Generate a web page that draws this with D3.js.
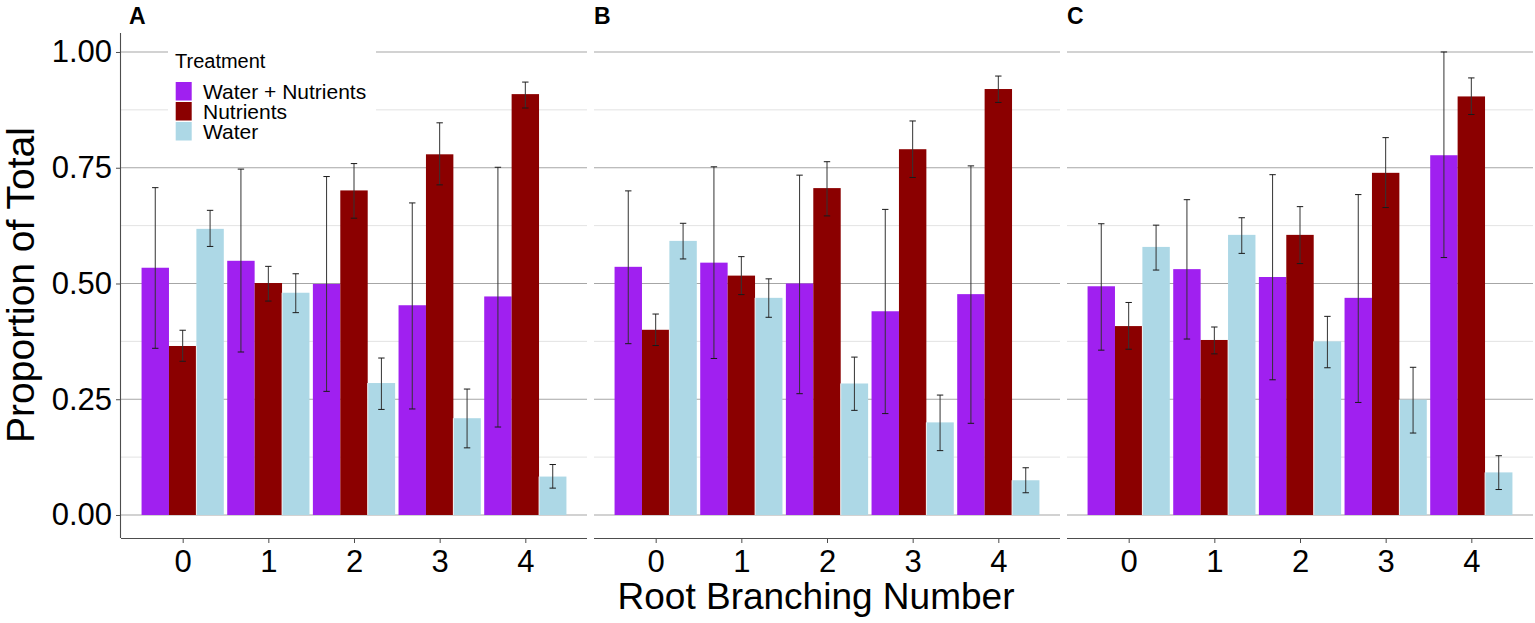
<!DOCTYPE html>
<html>
<head>
<meta charset="utf-8">
<script src="https://cdn.jsdelivr.net/npm/d3@7"></script>
<style>
	body { margin: 0; background: #fff; }
	svg { display: block; font-family: "Liberation Sans", Arial, sans-serif; }
</style>
</head>
<body>
<svg id="chart" width="1535" height="623"></svg>
<script>
'use strict';

const branching = ["0", "1", "2", "3", "4"];
const treatments = ["Water + Nutrients", "Nutrients", "Water"];
const treatmentColors = ["#a020f0", "#8b0000", "#add8e6"];
const panelLetters = ["A", "B", "C"];
const yTicks = [0, 0.25, 0.5, 0.75, 1];
const yMinorTicks = [0.125, 0.375, 0.625, 0.875];

// one row per panel (A, B, C), one value per branching number
const waterNutrients = [
	[0.534, 0.549, 0.499, 0.453, 0.472],
	[0.536, 0.545, 0.500, 0.440, 0.477],
	[0.494, 0.531, 0.514, 0.469, 0.777]
];
const waterNutrientsLo = [
	[0.360, 0.352, 0.267, 0.229, 0.190],
	[0.370, 0.338, 0.262, 0.219, 0.198],
	[0.356, 0.380, 0.292, 0.243, 0.556]
];
const waterNutrientsHi = [
	[0.707, 0.747, 0.731, 0.674, 0.751],
	[0.700, 0.752, 0.734, 0.660, 0.754],
	[0.629, 0.681, 0.735, 0.692, 1.000]
];

const nutrients = [
	[0.365, 0.501, 0.701, 0.779, 0.909],
	[0.400, 0.517, 0.706, 0.790, 0.920],
	[0.408, 0.378, 0.605, 0.739, 0.904]
];
const nutrientsLo = [
	[0.332, 0.462, 0.641, 0.713, 0.879],
	[0.366, 0.476, 0.646, 0.729, 0.891],
	[0.358, 0.348, 0.543, 0.664, 0.865]
];
const nutrientsHi = [
	[0.399, 0.537, 0.759, 0.847, 0.935],
	[0.434, 0.558, 0.763, 0.851, 0.948],
	[0.459, 0.406, 0.666, 0.815, 0.944]
];

const water = [
	[0.618, 0.480, 0.285, 0.209, 0.083],
	[0.592, 0.469, 0.284, 0.200, 0.075],
	[0.579, 0.605, 0.375, 0.249, 0.092]
];
const waterLo = [
	[0.580, 0.437, 0.228, 0.145, 0.058],
	[0.553, 0.427, 0.226, 0.139, 0.048],
	[0.529, 0.565, 0.318, 0.177, 0.055]
];
const waterHi = [
	[0.658, 0.521, 0.339, 0.272, 0.109],
	[0.630, 0.510, 0.341, 0.259, 0.102],
	[0.626, 0.642, 0.429, 0.319, 0.128]
];

const means = [waterNutrients, nutrients, water];
const lows = [waterNutrientsLo, nutrientsLo, waterLo];
const highs = [waterNutrientsHi, nutrientsHi, waterHi];

let svg = d3.select("#chart");

const panelLeft = [121, 594, 1067],
	panelWidth = 466,
	plotTop = 33,
	plotBottom = 538,
	dodge = 0.32;

let y = d3.scaleLinear()
	.domain([-0.0497, 1.041])
	.range([plotBottom, plotTop]);

function drawPanel(p) {
	let left = panelLeft[p];
	let x = d3.scaleLinear()
		.domain([-0.72, 4.72])
		.range([left, left + panelWidth]);

	let g = svg.append("g");

	// gridlines
	g.selectAll(".minor")
	.data(yMinorTicks)
	.enter().append("line")
	.attr("x1", left).attr("x2", left + panelWidth)
	.attr("y1", d => y(d)).attr("y2", d => y(d))
	.attr("stroke", "#e3e3e3")
	.attr("stroke-width", 1);

	g.selectAll(".major")
	.data(yTicks)
	.enter().append("line")
	.attr("x1", left).attr("x2", left + panelWidth)
	.attr("y1", d => y(d)).attr("y2", d => y(d))
	.attr("stroke", "#a6a6a6")
	.attr("stroke-width", 1.1);

	// legend sits in panel A, on a white box
	if (p === 0) {
		drawLegend();
	}

	let data = [];
	for (let t = 0; t < treatments.length; t++) {
		branching.forEach(function (b, i) {
			data.push({
				t: t,
				i: i,
				pos: i + (t - 1) * dodge,
				value: means[t][p][i],
				lo: lows[t][p][i],
				hi: highs[t][p][i]
			});
		});
	}

	g.selectAll(".bar")
	.data(data)
	.enter().append("rect")
	.attr("class", "bar")
	.attr("x", d => x(d.pos - dodge / 2))
	.attr("width", x(dodge) - x(0))
	.attr("y", d => y(d.value))
	.attr("height", d => y(0) - y(d.value))
	.attr("fill", d => treatmentColors[d.t]);

	// thin white seam between the Nutrients and Water bars
	g.selectAll(".seam")
	.data(data.filter(d => d.t === 2))
	.enter().append("line")
	.attr("x1", d => x(d.pos - dodge / 2)).attr("x2", d => x(d.pos - dodge / 2))
	.attr("y1", d => y(Math.min(d.value, nutrients[p][d.i]))).attr("y2", y(0))
	.attr("stroke", "#fff")
	.attr("stroke-width", 0.8);

	let eb = g.selectAll(".err")
	.data(data)
	.enter().append("g")
	.attr("stroke", "#1a1a1a")
	.attr("stroke-width", 1);

	eb.append("line")
	.attr("x1", d => x(d.pos)).attr("x2", d => x(d.pos))
	.attr("y1", d => y(d.lo)).attr("y2", d => y(d.hi))
	.attr("stroke", "#333");
	eb.append("line")
	.attr("x1", d => x(d.pos) - 3.2).attr("x2", d => x(d.pos) + 3.2)
	.attr("y1", d => y(d.lo)).attr("y2", d => y(d.lo));
	eb.append("line")
	.attr("x1", d => x(d.pos) - 3.2).attr("x2", d => x(d.pos) + 3.2)
	.attr("y1", d => y(d.hi)).attr("y2", d => y(d.hi));

	// x axis
	let xAxis = g.append("g")
	.attr("transform", "translate(0," + plotBottom + ")")
	.call(d3.axisBottom(x).tickValues([0, 1, 2, 3, 4]).tickFormat(i => branching[i]).tickSize(5).tickPadding(7));
	xAxis.select(".domain").attr("stroke", "#4d4d4d").attr("stroke-width", 1.1).attr("d", "M" + left + ",0.5H" + (left + panelWidth));
	xAxis.selectAll(".tick line").attr("stroke", "#4d4d4d");
	xAxis.selectAll("text").attr("font-size", 31).attr("fill", "#000").attr("font-family", "Liberation Sans, Arial, sans-serif");

	// y axis only on the first panel
	if (p === 0) {
		let yAxis = g.append("g")
		.attr("transform", "translate(" + left + ",0)")
		.call(d3.axisLeft(y).tickValues(yTicks).tickFormat(d3.format(".2f")).tickSize(5).tickPadding(4));
		yAxis.select(".domain").attr("stroke", "#4d4d4d").attr("stroke-width", 1.1).attr("d", "M-0.5," + plotTop + "V" + plotBottom);
		yAxis.selectAll(".tick line").attr("stroke", "#4d4d4d");
		yAxis.selectAll("text").attr("font-size", 31).attr("fill", "#000").attr("font-family", "Liberation Sans, Arial, sans-serif");
	}

	svg.append("text")
	.attr("x", left + (p === 0 ? 8 : 0))
	.attr("y", 24)
	.attr("font-size", 23)
	.attr("font-weight", "bold")
	.text(panelLetters[p]);
}

function drawLegend() {
	let lg = svg.append("g");
	lg.append("rect")
	.attr("x", 168).attr("y", 40)
	.attr("width", 208).attr("height", 110)
	.attr("fill", "#fff");
	lg.append("text")
	.attr("x", 175).attr("y", 68)
	.attr("font-size", 20)
	.text("Treatment");
	treatments.forEach(function (name, i) {
		lg.append("rect")
		.attr("x", 175.7).attr("y", 82 + i * 20)
		.attr("width", 16).attr("height", 18.5)
		.attr("fill", treatmentColors[i]);
		lg.append("text")
		.attr("x", 203).attr("y", 99 + i * 20)
		.attr("font-size", 21)
		.text(name);
	});
}

panelLetters.forEach((d, p) => drawPanel(p));

svg.append("text")
	.attr("x", 816)
	.attr("y", 609)
	.attr("text-anchor", "middle")
	.attr("font-size", 37)
	.text("Root Branching Number");

svg.append("text")
	.attr("transform", "translate(34,285) rotate(-90)")
	.attr("text-anchor", "middle")
	.attr("font-size", 39)
	.text("Proportion of Total");
</script>
</body>
</html>
